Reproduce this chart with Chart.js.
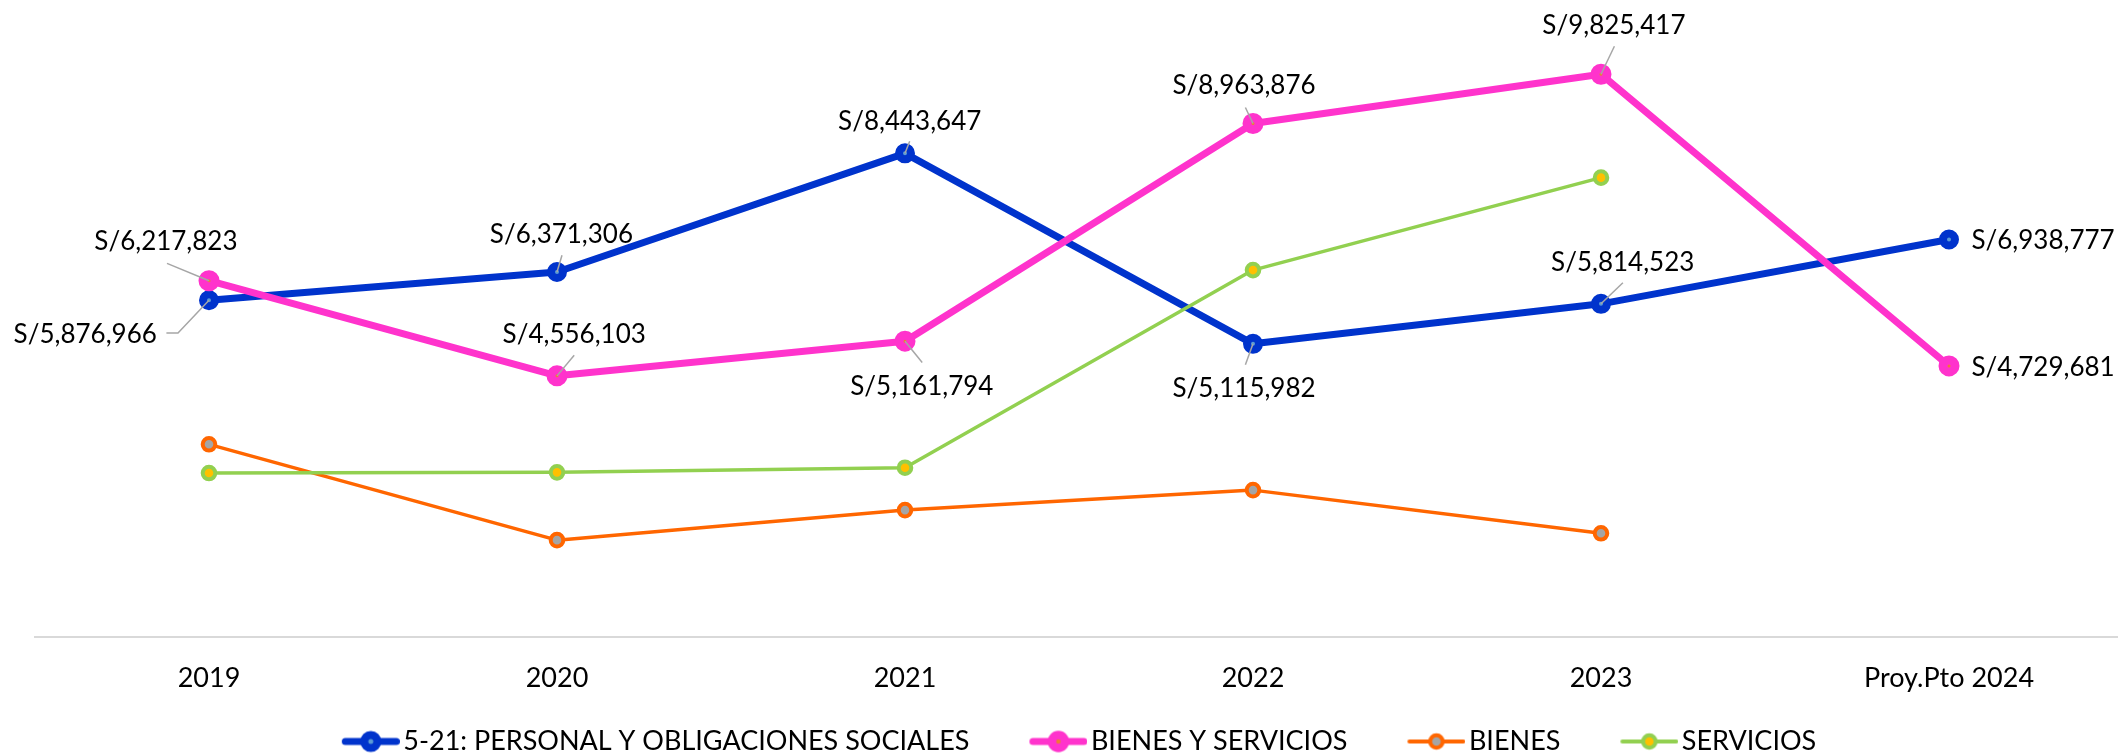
<!DOCTYPE html>
<html>
<head>
<meta charset="utf-8">
<script src="https://cdn.jsdelivr.net/npm/chart.js@4.4.1/dist/chart.umd.min.js"></script>
<style>
html,body{margin:0;padding:0;background:#ffffff;overflow:hidden;width:2118px;height:753px}
#wrap{width:2123px;height:753px}
</style>
</head>
<body>
<div id="wrap"><canvas id="c" width="2123" height="753"></canvas></div>
<script>
// ---- data ----
const categories = ['2019', '2020', '2021', '2022', '2023', 'Proy.Pto 2024'];
const seriesNames = ['5-21: PERSONAL Y OBLIGACIONES SOCIALES', 'BIENES Y SERVICIOS', 'BIENES', 'SERVICIOS'];
const personal = [5876966, 6371306, 8443647, 5115982, 5814523, 6938777];
const bienesServicios = [6217823, 4556103, 5161794, 8963876, 9825417, 4729681];
const bienes = [3360000, 1686000, 2211000, 2560000, 1806000, null];
const servicios = [2858000, 2870000, 2951000, 6404000, 8019000, null];

// ---- style / layout ----
const FONT = 'Lato, "Liberation Sans", sans-serif';
const fmt = v => 'S/' + Math.round(v).toLocaleString('en-US');

// label placement relative to each point (dx, dy, align, leader polyline)
const labelLayout = [
  [
    {dx: -123.8, dy: 34.5, leader: [[-42.6, 32.7], [-31, 32.7], [0, 0]]},
    {dx: 4.4, dy: -37.4, leader: [[5, -16.7], [0, 0]]},
    {dx: 4.7, dy: -32, leader: [[4.7, -12], [0, 0]]},
    {dx: -9, dy: 44.7, leader: [[0, 0], [-7.6, 21]]},
    {dx: 21.7, dy: -41.7, leader: [[21.9, -21], [0, 0]]},
    {dx: 22.4, dy: 1.4, align: 'left'}
  ],
  [
    {dx: -43.1, dy: -39, leader: [[-42, -17.4], [0, 0]]},
    {dx: 17.2, dy: -41.7, leader: [[17.2, -20.7], [0, 0]]},
    {dx: 16.8, dy: 45.3, leader: [[0, 0], [17.2, 21.3]]},
    {dx: -9, dy: -37.7, leader: [[-7.6, -16.1], [0, 0]]},
    {dx: 12.9, dy: -48.6, leader: [[13.4, -28], [0, 0]]},
    {dx: 22.4, dy: 1.3, align: 'left'}
  ],
  null,
  null
];

function legendIcon(color, fill, lw, r, bw) {
  const c = document.createElement('canvas');
  c.width = 68; c.height = 24;
  const g = c.getContext('2d');
  g.strokeStyle = color; g.lineWidth = lw; g.lineCap = 'round';
  g.beginPath(); g.moveTo(10 + lw / 2, 12); g.lineTo(68 - lw / 2, 12); g.stroke();
  g.beginPath(); g.arc(39, 12, r, 0, Math.PI * 2);
  g.fillStyle = fill; g.fill();
  g.lineWidth = bw; g.stroke();
  return c;
}
const legendIcons = [
  legendIcon('#0033CC', '#5B9BD5', 7, 6.5, 8),
  legendIcon('#FF33CC', '#ED7D31', 7, 6.5, 8.5),
  legendIcon('#FF6600', '#A5A5A5', 4, 6.3, 4),
  legendIcon('#92D050', '#FFC000', 4, 6.3, 4)
];

const labelPlugin = {
  id: 'valueLabels',
  afterDatasetsDraw(chart) {
    const ctx = chart.ctx;
    labelLayout.forEach((lay, di) => {
      if (!lay) return;
      const meta = chart.getDatasetMeta(di);
      const vals = chart.data.datasets[di].data;
      meta.data.forEach((pt, j) => {
        const L = lay[j];
        if (!L || vals[j] == null) return;
        if (L.leader) {
          ctx.save();
          ctx.strokeStyle = '#A6A6A6';
          ctx.lineWidth = 1.5;
          ctx.beginPath();
          L.leader.forEach(([lx, ly], k) => {
            if (k === 0) ctx.moveTo(pt.x + lx, pt.y + ly); else ctx.lineTo(pt.x + lx, pt.y + ly);
          });
          ctx.stroke();
          ctx.restore();
        }
        ctx.save();
        ctx.font = '26px ' + FONT;
        ctx.fillStyle = '#000000';
        ctx.textAlign = L.align || 'center';
        ctx.textBaseline = 'middle';
        ctx.fillText(fmt(vals[j]), pt.x + L.dx, pt.y + L.dy);
        ctx.restore();
      });
    });
  }
};

function ds(label, data, color, fill, lw, r, bw, order) {
  return {
    label, data,
    borderColor: color, backgroundColor: fill,
    borderWidth: lw, borderJoinStyle: 'round', borderCapStyle: 'round',
    pointRadius: r, pointBorderWidth: bw, pointHoverRadius: r,
    pointBackgroundColor: fill, pointBorderColor: color,
    tension: 0, fill: false, order
  };
}

new Chart(document.getElementById('c'), {
  type: 'line',
  data: {
    labels: categories,
    datasets: [
      ds(seriesNames[0], personal, '#0033CC', '#5B9BD5', 7, 6, 8, 4),
      ds(seriesNames[1], bienesServicios, '#FF33CC', '#ED7D31', 7, 6, 9, 3),
      ds(seriesNames[2], bienes, '#FF6600', '#A5A5A5', 3.5, 6.3, 4, 2),
      ds(seriesNames[3], servicios, '#92D050', '#FFC000', 3.5, 6.3, 4, 1)
    ]
  },
  options: {
    responsive: false,
    devicePixelRatio: 1,
    animation: false,
    events: [],
    layout: {autoPadding: false, padding: {left: 35, right: 0, top: 7, bottom: 0}},
    scales: {
      x: {
        type: 'category',
        offset: true,
        grid: {display: false, drawTicks: false},
        border: {display: true, color: '#D9D9D9', width: 2},
        ticks: {color: '#000000', font: {family: FONT, size: 27}, padding: -57.85, mirror: true, maxRotation: 0, autoSkip: false},
        afterFit(s) { s.height = 31.35; }
      },
      y: {display: false, min: 0, max: 11000000}
    },
    plugins: {
      tooltip: {enabled: false},
      legend: {
        position: 'bottom',
        maxHeight: 85,
        labels: {
          usePointStyle: true,
          pointStyleWidth: 48,
          padding: 60,
          color: '#000000',
          font: {family: FONT, size: 27},
          sort: (a, b) => a.datasetIndex - b.datasetIndex,
          generateLabels(chart) {
            const items = Chart.defaults.plugins.legend.labels.generateLabels(chart);
            items.forEach(it => { it.pointStyle = legendIcons[it.datasetIndex]; });
            return items;
          }
        }
      }
    }
  },
  plugins: [labelPlugin]
});
</script>
</body>
</html>
